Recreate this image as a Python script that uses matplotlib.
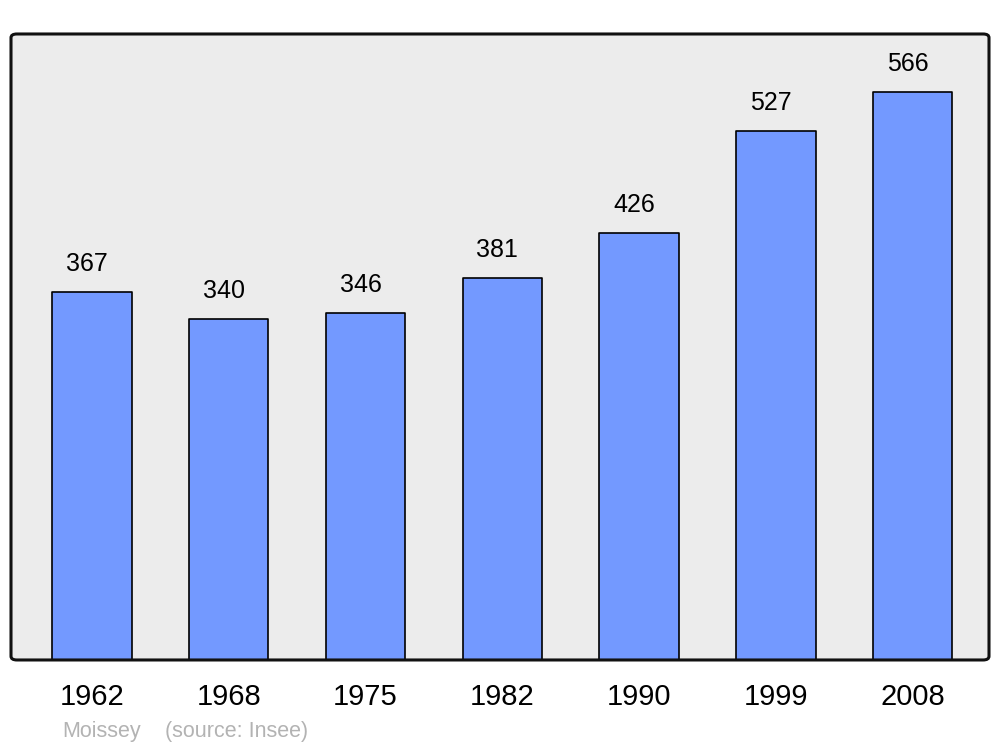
import matplotlib.pyplot as plt
from matplotlib.patches import FancyBboxPatch

plt.rcParams['font.family'] = ['Liberation Sans', 'DejaVu Sans']

years = ['1962', '1968', '1975', '1982', '1990', '1999', '2008']
population = [367, 340, 346, 381, 426, 527, 566]

fig = plt.figure(figsize=(10, 7.47), dpi=100)
ax = fig.add_axes([0.011, 0.1165, 0.978, 0.838])
ax.set_facecolor('#ececec')

x = list(range(len(years)))
ax.bar(x, population, width=0.58, color='#7399ff', edgecolor='black',
       linewidth=1.2, joinstyle='round', zorder=2)

for xi, v in zip(x, population):
    ax.annotate(str(v), (xi, v), xytext=(-5, 28), textcoords='offset pixels',
                ha='center', va='center', fontsize=18)

ax.set_xlim(-0.592, 6.558)
ax.set_ylim(0, 624)
ax.set_xticks(x)
ax.set_xticklabels(years, fontsize=21)
ax.tick_params(axis='x', length=0, pad=16.5)
ax.set_yticks([])
for s in ax.spines.values():
    s.set_visible(False)

# rounded frame around the plot area
frame = FancyBboxPatch((0, 0), 1, 1, boxstyle='round,pad=0,rounding_size=0.006',
                       transform=ax.transAxes, fill=False, edgecolor='#111111',
                       linewidth=2.2, clip_on=False, zorder=5)
ax.add_patch(frame)

fig.text(0.062, 0.0134, 'Moissey', color='#b3b3b3', fontsize=15.5, va='baseline')
fig.text(0.165, 0.0134, '(source: Insee)', color='#b3b3b3', fontsize=15.5, va='baseline')

fig.savefig('out.png', dpi=100)
